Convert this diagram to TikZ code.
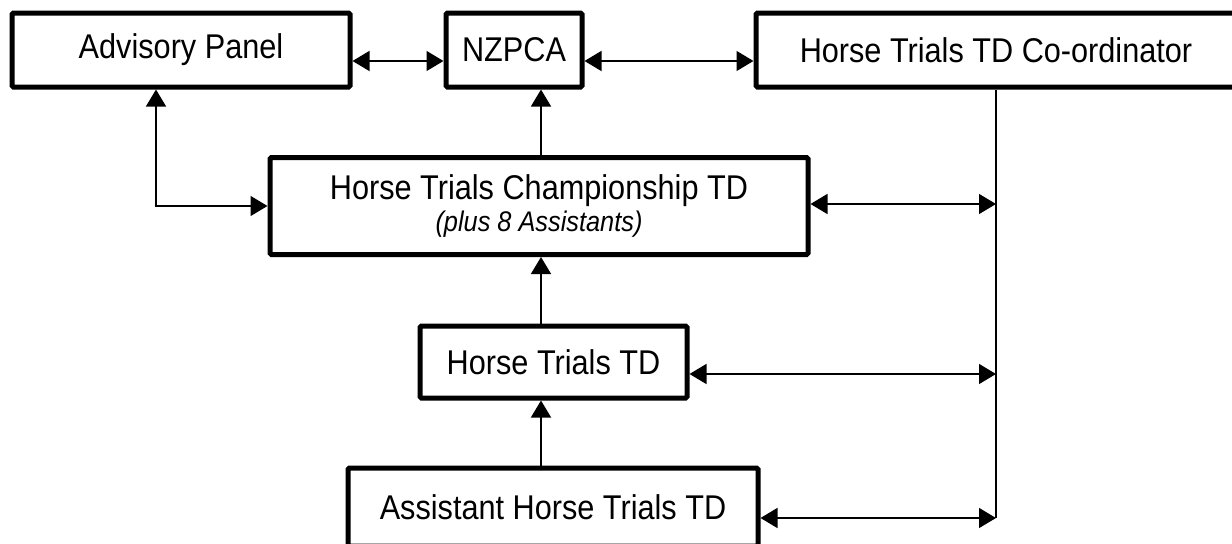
\documentclass[tikz,border=0pt]{standalone}
\usepackage{fontspec}
\setmainfont{Liberation Sans}
\usetikzlibrary{arrows.meta}
\newcommand{\tallt}[1]{\scalebox{1}[1.12]{#1}}
\begin{document}
\begin{tikzpicture}[x=0.75pt, y=-0.75pt,
    box/.style={draw, line width=3.75pt, rounded corners=1pt, inner sep=0pt, font=\fontsize{23}{27}\selectfont},
    link/.style={line width=1.1pt, {Triangle[length=12.75pt,width=15pt]}-{Triangle[length=12.75pt,width=15pt]}},
    up/.style={line width=1.1pt, -{Triangle[length=12.75pt,width=15pt]}}]
    \useasboundingbox (0,0) rectangle (1232,543);
    \clip (0,0) rectangle (1232,543);

    \node[box, minimum width=338*0.75pt, minimum height=74*0.75pt] (adv) at (181,50) {\tallt{Advisory Panel}};
    \node[box, minimum width=136*0.75pt, minimum height=74*0.75pt] (nzpca) at (514,50) {\tallt{NZPCA}};
    \node[box, minimum width=480*0.75pt, minimum height=74*0.75pt] (coord) at (996,50) {\tallt{Horse Trials TD Co-ordinator}};
    \node[box, minimum width=538*0.75pt, minimum height=97*0.75pt, align=center] (champ) at (539,206)
        {\tallt{Horse Trials Championship TD}\\[-3pt]{\fontsize{19}{23}\selectfont\itshape\tallt{(plus 8 Assistants)}}};
    \node[box, minimum width=267*0.75pt, minimum height=72*0.75pt] (httd) at (553.5,362) {\tallt{Horse Trials TD}};
    \node[box, minimum width=410*0.75pt, minimum height=78*0.75pt] (asst) at (553,507) {\tallt{Assistant Horse Trials TD}};

    \coordinate (row) at (0,61);
    \coordinate (mid) at (541,0);
    \coordinate (advx) at (156,0);
    \coordinate (b1) at (996,204);
    \coordinate (b2) at (996,374);
    \coordinate (b3) at (996,518);

    \draw[link] (adv.east |- row) -- (nzpca.west |- row);
    \draw[link] (nzpca.east |- row) -- (coord.west |- row);
    \draw[up] (champ.north -| mid) -- (nzpca.south -| mid);
    \draw[up] (httd.north -| mid) -- (champ.south -| mid);
    \draw[up] (asst.north -| mid) -- (httd.south -| mid);
    \draw[link] (adv.south -| advx) |- (champ.west);
    \draw[line width=1.1pt] (coord.south) -- (b3);
    \draw[link] (champ.east |- b1) -- (b1);
    \draw[link] (httd.east |- b2) -- (b2);
    \draw[link] (asst.east |- b3) -- (b3);

\end{tikzpicture}
\end{document}
